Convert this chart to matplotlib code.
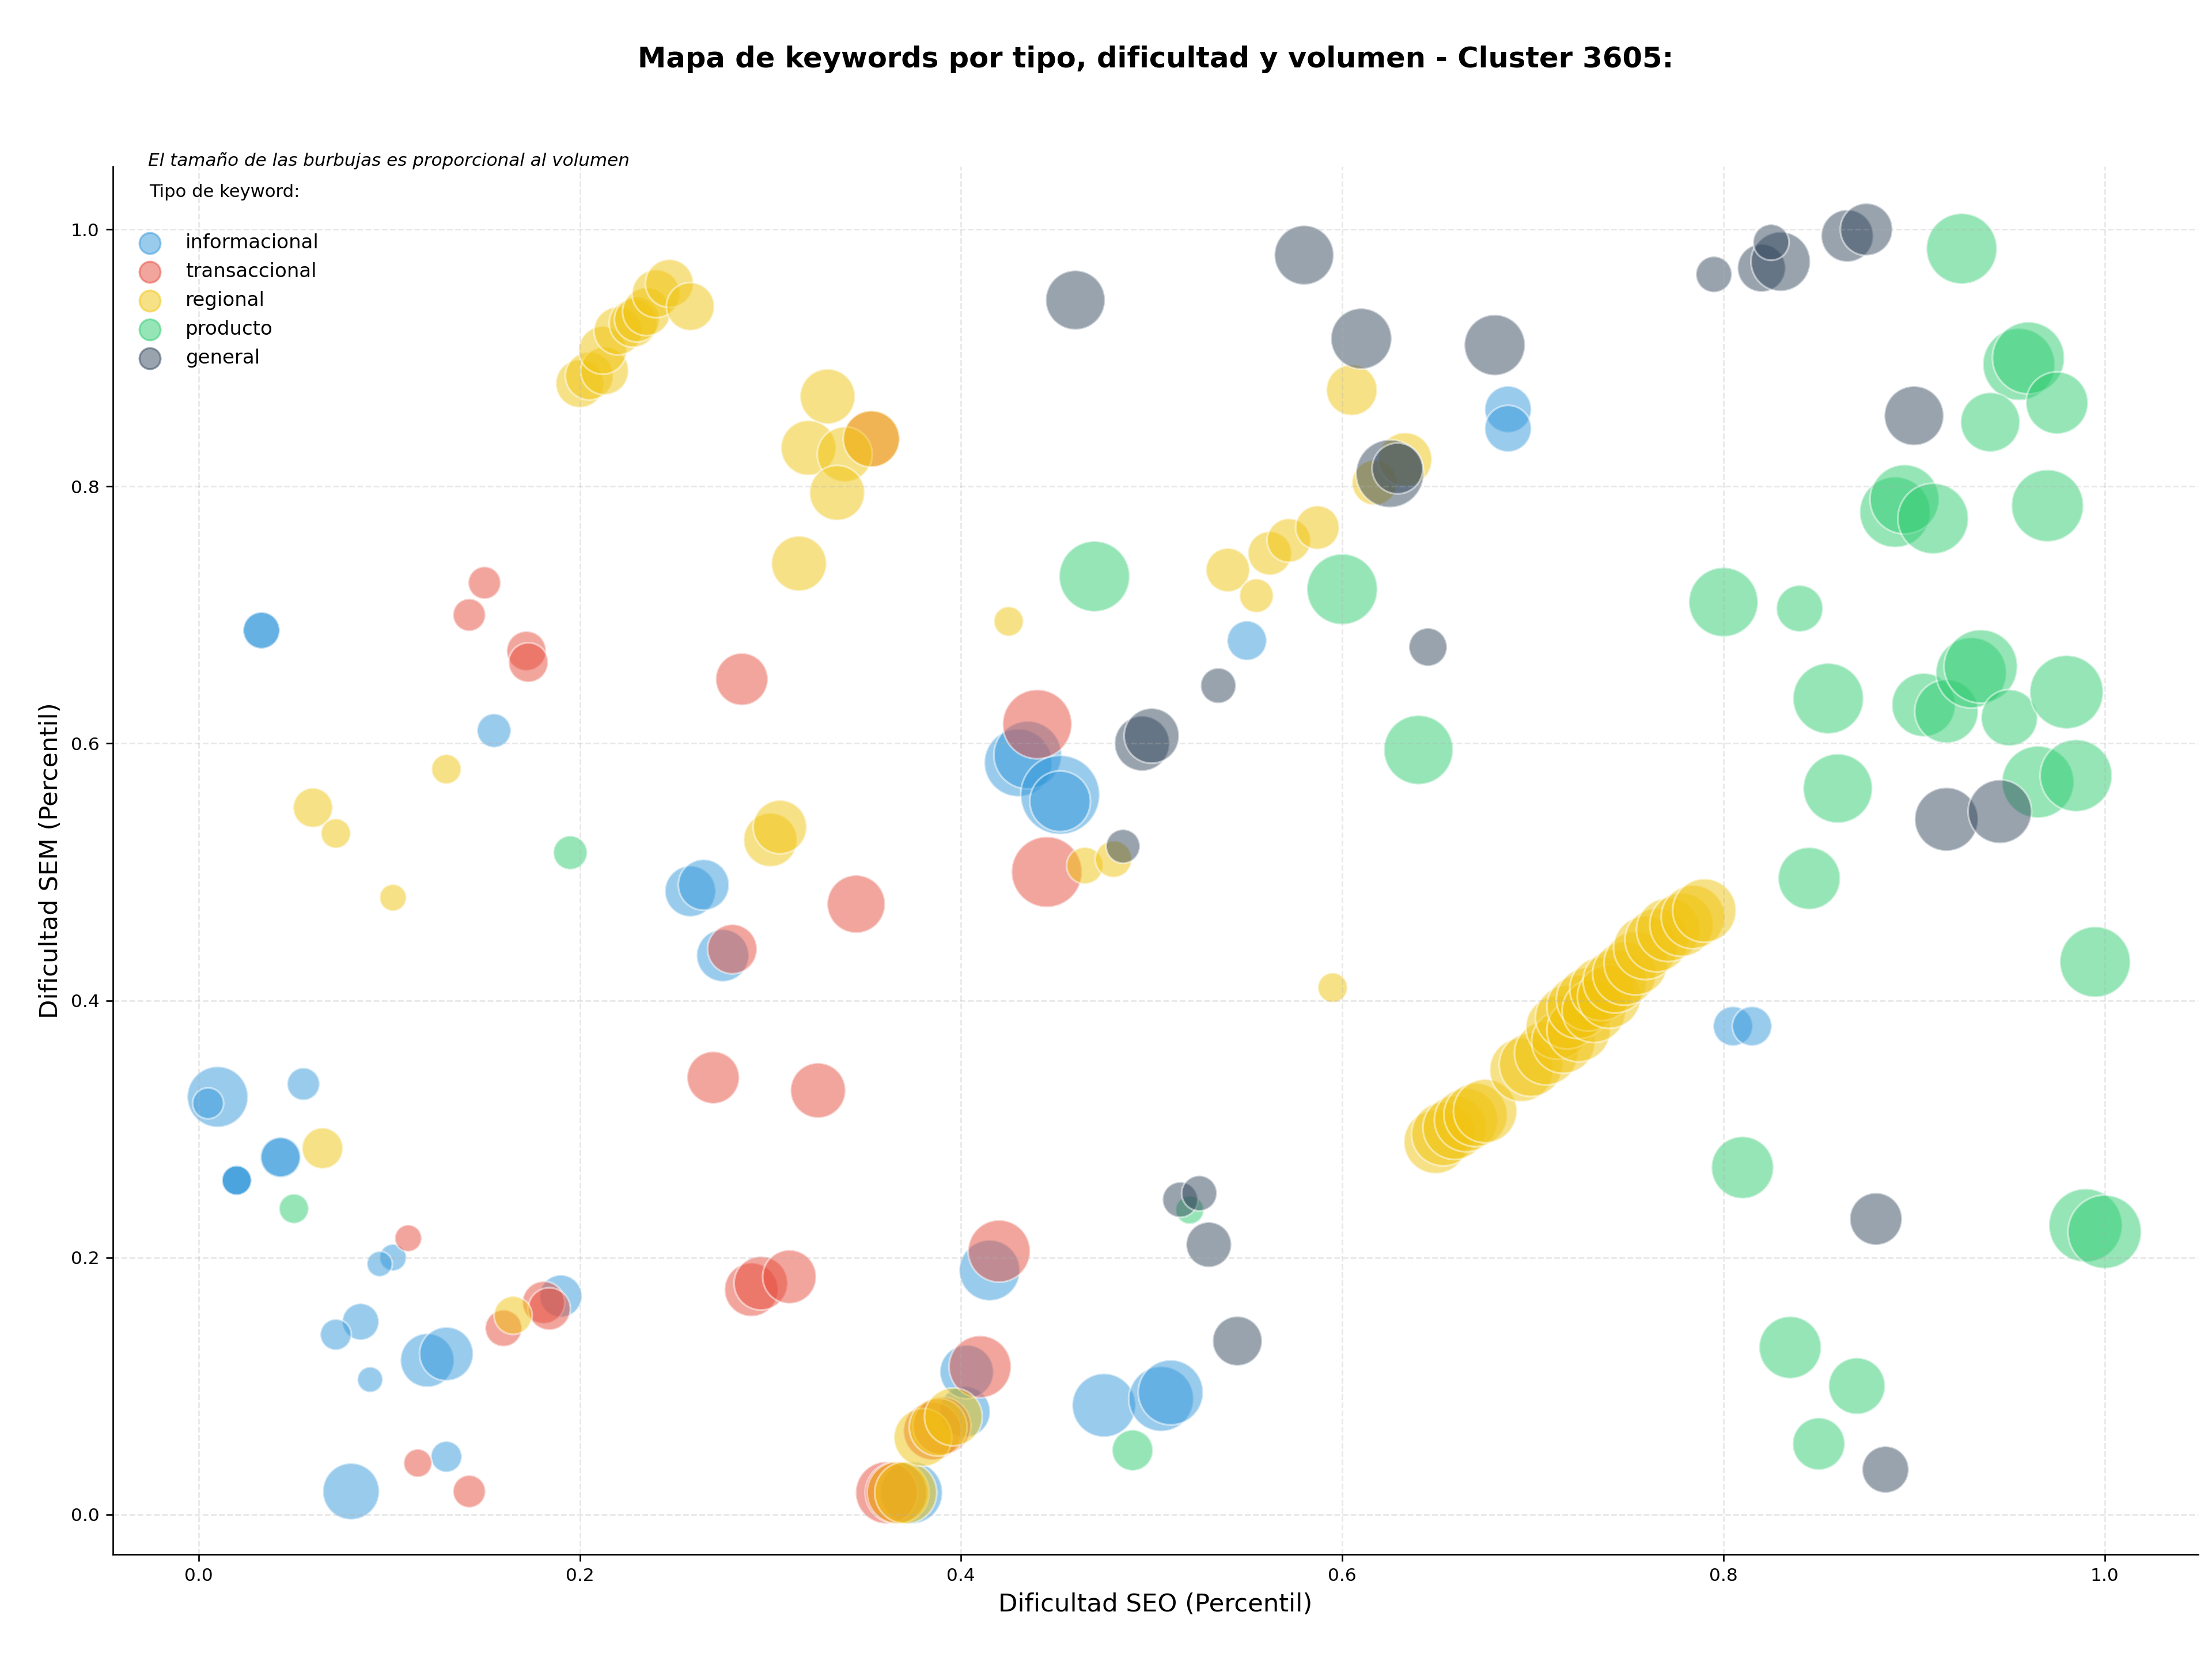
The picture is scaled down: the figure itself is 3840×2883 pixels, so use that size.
import matplotlib
matplotlib.use('Agg')
import matplotlib.pyplot as plt

# Datos por tipo de keyword: dificultad SEO (x), dificultad SEM (y), volumen (area de la burbuja)
info_x = [0.033, 0.033, 0.010, 0.005, 0.055, 0.043, 0.043, 0.020, 0.020, 0.020, 0.155, 0.102, 0.095,
          0.085, 0.072, 0.090, 0.080, 0.130, 0.120, 0.130, 0.190, 0.258, 0.265, 0.275, 0.374, 0.402,
          0.403, 0.415, 0.430, 0.435, 0.452, 0.452, 0.475, 0.505, 0.510, 0.550, 0.687, 0.687, 0.805, 0.815]
info_y = [0.688, 0.688, 0.325, 0.320, 0.335, 0.278, 0.278, 0.260, 0.260, 0.260, 0.610, 0.200, 0.195,
          0.150, 0.140, 0.105, 0.018, 0.045, 0.120, 0.125, 0.170, 0.485, 0.490, 0.435, 0.017, 0.080,
          0.111, 0.190, 0.585, 0.591, 0.560, 0.555, 0.085, 0.090, 0.095, 0.680, 0.860, 0.845, 0.380, 0.380]
info_vol = [365, 365, 998, 261, 286, 454, 423, 238, 238, 238, 311, 195, 175,
            365, 261, 175, 864, 261, 780, 780, 486, 700, 700, 739, 1045, 700,
            780, 998, 1244, 1244, 1693, 998, 1094, 1143, 1143, 423, 588, 588, 423, 423]

trans_x = [0.150, 0.142, 0.172, 0.173, 0.285, 0.110, 0.115, 0.142, 0.160, 0.181, 0.184, 0.280, 0.270,
           0.325, 0.345, 0.290, 0.295, 0.310, 0.361, 0.366, 0.385, 0.390, 0.410, 0.420, 0.440, 0.445, 0.353]
trans_y = [0.725, 0.700, 0.672, 0.663, 0.650, 0.215, 0.040, 0.018, 0.145, 0.165, 0.160, 0.440, 0.340,
           0.330, 0.475, 0.175, 0.180, 0.185, 0.017, 0.017, 0.065, 0.069, 0.115, 0.205, 0.615, 0.500, 0.837]
trans_vol = [286, 286, 423, 423, 739, 195, 216, 286, 365, 486, 486, 662, 739,
             821, 908, 780, 780, 780, 1045, 1045, 908, 908, 1045, 1045, 1297, 1350, 864]

reg_x = [0.200, 0.205, 0.213, 0.212, 0.220, 0.228, 0.230, 0.235, 0.240, 0.247, 0.258,
         0.330, 0.320, 0.339, 0.335, 0.353, 0.315, 0.060, 0.072, 0.130, 0.102, 0.065, 0.165,
         0.300, 0.305, 0.425, 0.465, 0.480, 0.367, 0.371, 0.380, 0.388, 0.396,
         0.540, 0.555, 0.562, 0.572, 0.587, 0.605, 0.617, 0.633, 0.595,
         0.649, 0.653, 0.659, 0.665, 0.670, 0.675, 0.694, 0.699, 0.707, 0.713, 0.716, 0.718,
         0.724, 0.724, 0.729, 0.732, 0.736, 0.740, 0.743, 0.748, 0.754, 0.759, 0.765, 0.771,
         0.778, 0.784, 0.790]
reg_y = [0.880, 0.886, 0.890, 0.906, 0.921, 0.927, 0.930, 0.936, 0.950, 0.958, 0.940,
         0.870, 0.830, 0.825, 0.795, 0.837, 0.740, 0.550, 0.530, 0.580, 0.480, 0.285, 0.155,
         0.525, 0.535, 0.695, 0.505, 0.510, 0.017, 0.017, 0.060, 0.068, 0.076,
         0.735, 0.715, 0.748, 0.758, 0.768, 0.875, 0.803, 0.821, 0.410,
         0.290, 0.296, 0.301, 0.307, 0.311, 0.314, 0.346, 0.350, 0.359, 0.379, 0.368, 0.387,
         0.377, 0.395, 0.401, 0.392, 0.409, 0.403, 0.415, 0.421, 0.429, 0.441, 0.447, 0.455,
         0.459, 0.465, 0.470]
reg_vol = [624, 624, 624, 624, 624, 624, 553, 624, 624, 624, 624,
           821, 821, 821, 821, 864, 821, 423, 238, 238, 195, 454, 394,
           780, 780, 238, 365, 365, 1045, 1045, 908, 908, 908,
           519, 311, 519, 519, 519, 700, 553, 780, 238,
           1094, 1094, 1094, 1094, 1094, 1094, 1094, 1094, 1094, 1094, 1094, 1094,
           1094, 1094, 1094, 1094, 1094, 1094, 1094, 1094, 1094, 1094, 1094, 1094,
           1094, 1094, 1094]

prod_x = [0.195, 0.050, 0.470, 0.600, 0.640, 0.490, 0.520,
          0.800, 0.840, 0.855, 0.860, 0.845, 0.810, 0.835, 0.870, 0.850,
          0.925, 0.955, 0.960, 0.975, 0.940, 0.890, 0.895, 0.910, 0.970,
          0.905, 0.917, 0.930, 0.935, 0.950, 0.980, 0.965, 0.985, 0.995, 0.990, 1.000]
prod_y = [0.515, 0.238, 0.730, 0.720, 0.595, 0.050, 0.237,
          0.710, 0.705, 0.635, 0.565, 0.495, 0.270, 0.130, 0.100, 0.055,
          0.985, 0.895, 0.900, 0.865, 0.850, 0.780, 0.790, 0.775, 0.785,
          0.630, 0.625, 0.655, 0.660, 0.620, 0.640, 0.570, 0.575, 0.430, 0.225, 0.220]
prod_vol = [311, 238, 1350, 1350, 1297, 454, 216,
            1297, 588, 1350, 1297, 1045, 1045, 1045, 864, 739,
            1350, 1405, 1405, 1045, 953, 1350, 1297, 1350, 1405,
            1094, 1094, 1350, 1460, 864, 1460, 1405, 1405, 1350, 1460, 1460]

gen_x = [0.460, 0.580, 0.610, 0.680, 0.625, 0.629, 0.645, 0.535, 0.495, 0.500, 0.485,
         0.515, 0.525, 0.530, 0.545, 0.795, 0.820, 0.830, 0.825, 0.865, 0.875,
         0.900, 0.917, 0.945, 0.880, 0.885]
gen_y = [0.945, 0.980, 0.915, 0.910, 0.810, 0.814, 0.675, 0.645, 0.600, 0.606, 0.520,
         0.245, 0.250, 0.210, 0.135, 0.965, 0.970, 0.975, 0.990, 0.995, 1.000,
         0.855, 0.541, 0.547, 0.230, 0.035]
gen_vol = [953, 953, 998, 998, 1244, 700, 394, 338, 821, 821, 311,
           338, 338, 553, 662, 351, 624, 953, 351, 739, 739,
           953, 1094, 1094, 739, 588]

tipos = ['informacional', 'transaccional', 'regional', 'producto', 'general']
colores = ['#3498db', '#e74c3c', '#f1c40f', '#2ecc71', '#34495e']
series = [(info_x, info_y, info_vol), (trans_x, trans_y, trans_vol), (reg_x, reg_y, reg_vol),
          (prod_x, prod_y, prod_vol), (gen_x, gen_y, gen_vol)]

fig = plt.figure(figsize=(16, 12.0125), dpi=240)
ax = fig.add_axes([0.051, 0.0642, 0.9427, 0.8356])

for tipo, color, (xs, ys, vol) in zip(tipos, colores, series):
    ax.scatter(xs, ys, s=vol, c=color, alpha=0.5, edgecolors='white', linewidths=1)

# handles del legend con tamaño fijo
handles = [ax.scatter([], [], s=120, c=color, alpha=0.5, label=tipo) for tipo, color in zip(tipos, colores)]

ax.set_xlim(-0.045, 1.049)
ax.set_ylim(-0.031, 1.049)
ax.set_xlabel('Dificultad SEO (Percentil)', fontsize=13)
ax.set_ylabel('Dificultad SEM (Percentil)', fontsize=13)
ax.tick_params(labelsize=9.4)
ax.grid(True, linestyle='--', alpha=0.3)
ax.spines['top'].set_visible(False)
ax.spines['right'].set_visible(False)

leg = ax.legend(handles=handles, title='Tipo de keyword:\n', loc='upper left', frameon=False,
                fontsize=10.2, title_fontsize=9.2)
leg.get_title().set_linespacing(1.45)
ax.text(0.017, 1.004, 'El tamaño de las burbujas es proporcional al volumen', transform=ax.transAxes,
        fontsize=9.3, style='italic', va='center', ha='left')

ax.set_title('Mapa de keywords por tipo, dificultad y volumen - Cluster 3605:', fontsize=14.9,
             fontweight='bold', y=1.0772, pad=0, va='center')

fig.savefig('out.png', dpi=240)
